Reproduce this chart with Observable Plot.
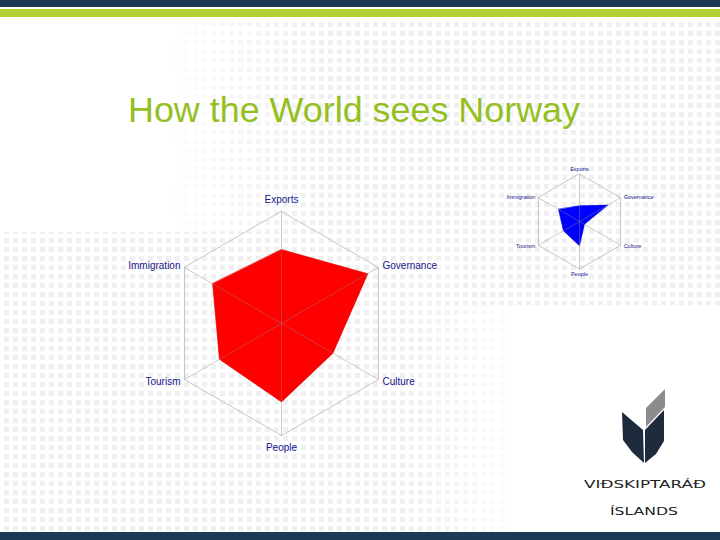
<!DOCTYPE html>
<html>
<head>
<meta charset="utf-8">
<script src="https://cdn.jsdelivr.net/npm/d3@7"></script>
<script src="https://cdn.jsdelivr.net/npm/@observablehq/plot@0.6"></script>
<style>
  html, body { margin: 0; padding: 0; background: #fff; overflow: hidden; }
  #page { position: relative; width: 720px; height: 540px; background: #fff; overflow: hidden; font-family: "Liberation Sans", Arial, sans-serif; }
  .dots {
    position: absolute;
    background-image:
      linear-gradient(90deg, #fff 4px, transparent 4px),
      linear-gradient(#fff 4px, transparent 4px),
      linear-gradient(#f0f0f0, #f0f0f0);
    background-size: 9px 9px;
  }
  .abs { position: absolute; }
  svg.plot { overflow: visible; }
</style>
</head>
<body>
<div id="page">
  <div class="dots" id="dotsA" style="left:175px; top:18px; width:545px; height:287px; background-position:-175px -18px;
       -webkit-mask-image: linear-gradient(to right, rgba(0,0,0,0.15), #000 25%); mask-image: linear-gradient(to right, rgba(0,0,0,0.15), #000 25%);"></div>
  <div class="dots" id="dotsB" style="left:0px; top:232px; width:510px; height:300px; background-position:0px -232px;
       -webkit-mask-image: linear-gradient(to right, #000 80%, rgba(0,0,0,0.2)); mask-image: linear-gradient(to right, #000 80%, rgba(0,0,0,0.2));"></div>
  <div class="abs" style="left:0; top:0; width:720px; height:7px; background:#1c3a57;"></div>
  <div class="abs" style="left:0; top:9px; width:720px; height:8px; background:#b3cf36;"></div>
  <div class="abs" style="left:0; top:532px; width:720px; height:8px; background:#1c3a57;"></div>
  <div class="abs" id="bigChart" style="left:111px; top:173px;"></div>
  <div class="abs" id="smallChart" style="left:498.7px; top:155.8px;"></div>
  <svg class="abs" style="left:0; top:0;" width="720" height="540" viewBox="0 0 720 540">
    <text x="128" y="122" font-family="Liberation Sans, Arial, sans-serif" font-size="35" fill="#93c01f" textLength="452" lengthAdjust="spacingAndGlyphs">How the World sees Norway</text>
    <path d="M622,412 L643,430 L644,463 L632,452 L623,440 Z" fill="#1e2b3d"/>
    <path d="M645,430 L664,410 L664,441 L656,454 L645,463 Z" fill="#1e2b3d"/>
    <path d="M646,408 L665,389 L665,407 L646,427 Z" fill="#8c8c8c"/>
    <text x="584" y="488" font-family="DejaVu Sans, sans-serif" font-size="10.5" fill="#222" textLength="122" lengthAdjust="spacingAndGlyphs">VIÐSKIPTARÁÐ</text>
    <text x="610" y="515" font-family="DejaVu Sans, sans-serif" font-size="10.5" fill="#222" textLength="68" lengthAdjust="spacingAndGlyphs">ÍSLANDS</text>
  </svg>
</div>
<script>
const categories = ["Exports", "Governance", "Culture", "People", "Tourism", "Immigration"];
const worldValues = [0.66, 0.89, 0.53, 0.70, 0.64, 0.71];
const otherValues = [0.33, 0.69, 0.12, 0.51, 0.39, 0.51];

function radar({values, R, W, H, fill, stroke, fontSize, offTop, offSide, offSideY}) {
  const n = categories.length;
  const axes = categories.map((c, i) => {
    const a = i * 2 * Math.PI / n;
    return {cat: c, i, x: Math.sin(a), y: Math.cos(a)};
  });
  const poly = values.map((v, i) => ({x: v * axes[i].x, y: v * axes[i].y}));
  const top = axes.filter(d => d.cat === "Exports");
  const bottom = axes.filter(d => d.cat === "People");
  const rightUp = axes.filter(d => d.cat === "Governance");
  const rightDown = axes.filter(d => d.cat === "Culture");
  const leftUp = axes.filter(d => d.cat === "Immigration");
  const leftDown = axes.filter(d => d.cat === "Tourism");
  const txt = {x: "x", y: "y", text: "cat", fill: "#16168c", fontSize};
  return Plot.plot({
    width: W, height: H,
    marginTop: 0, marginBottom: 0, marginLeft: 0, marginRight: 0,
    x: {domain: [-W / 2 / R, W / 2 / R], axis: null},
    y: {domain: [-H / 2 / R, H / 2 / R], axis: null},
    style: {background: "transparent", fontFamily: "Liberation Sans, Arial, sans-serif", overflow: "visible"},
    marks: [
      Plot.line(axes, {x: "x", y: "y", curve: "linear-closed", stroke: "#b8b8b8", strokeWidth: 0.8}),
      Plot.line(poly, {x: "x", y: "y", curve: "linear-closed", fill, stroke, strokeWidth: 0.6}),
      Plot.link(axes, {x1: () => 0, y1: () => 0, x2: "x", y2: "y", stroke: "#8a8a8a", strokeOpacity: 0.55, strokeWidth: 0.8}),
      Plot.text(top, {...txt, dy: -offTop}),
      Plot.text(bottom, {...txt, dy: offTop}),
      Plot.text(rightUp, {...txt, textAnchor: "start", dx: offSide, dy: -offSideY}),
      Plot.text(rightDown, {...txt, textAnchor: "start", dx: offSide, dy: offSideY}),
      Plot.text(leftUp, {...txt, textAnchor: "end", dx: -offSide, dy: -offSideY}),
      Plot.text(leftDown, {...txt, textAnchor: "end", dx: -offSide, dy: offSideY})
    ]
  });
}

document.getElementById("bigChart").appendChild(radar({
  values: worldValues, R: 112, W: 340, H: 300, fill: "#ff0000", stroke: "#d40000",
  fontSize: 10, offTop: 12, offSide: 4, offSideY: 2
}));
document.getElementById("smallChart").appendChild(radar({
  values: otherValues, R: 47.5, W: 160, H: 130, fill: "#0000ff", stroke: "#0000c8",
  fontSize: 5.5, offTop: 5, offSide: 3, offSideY: 0.5
}));
</script>
</body>
</html>
